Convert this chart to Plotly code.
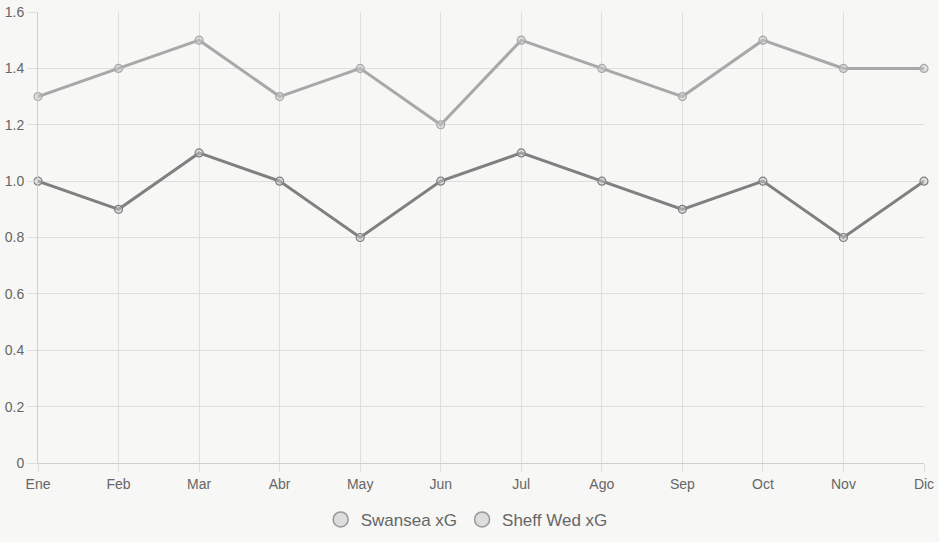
import plotly.graph_objects as go

months = ["Ene", "Feb", "Mar", "Abr", "May", "Jun", "Jul", "Ago", "Sep", "Oct", "Nov", "Dic"]
swansea_xg = [1.3, 1.4, 1.5, 1.3, 1.4, 1.2, 1.5, 1.4, 1.3, 1.5, 1.4, 1.4]
sheff_wed_xg = [1.0, 0.9, 1.1, 1.0, 0.8, 1.0, 1.1, 1.0, 0.9, 1.0, 0.8, 1.0]
y_ticks = [0, 0.2, 0.4, 0.6, 0.8, 1.0, 1.2, 1.4, 1.6]
y_labels = ["0", "0.2", "0.4", "0.6", "0.8", "1.0", "1.2", "1.4", "1.6"]

xs = list(range(len(months)))
fig = go.Figure()

series = [
    ("Swansea xG", swansea_xg, "#a8a8a8"),
    ("Sheff Wed xG", sheff_wed_xg, "#808080"),
]
for name, vals, col in series:
    fig.add_trace(go.Scatter(
        x=xs, y=vals, mode="lines+markers", name=name, showlegend=False,
        line=dict(color=col, width=3),
        marker=dict(size=8, color="rgba(200,200,200,0.5)", line=dict(color=col, width=1.2)),
        hoverinfo="y", cliponaxis=False,
    ))
for name, vals, col in series:
    fig.add_trace(go.Scatter(
        x=[None], y=[None], mode="markers", name=name,
        marker=dict(size=15, color="#dddddd", line=dict(color="#999999", width=1.5)),
    ))

grid = "#dedede"
fig.update_layout(
    width=939, height=542,
    paper_bgcolor="#f7f7f5", plot_bgcolor="#f7f7f5",
    margin=dict(l=38, r=15, t=12, b=79, autoexpand=False),
    font=dict(family="Liberation Sans, Arial, sans-serif", color="#666666", size=14),
    legend=dict(orientation="h", xref="container", x=0.497, xanchor="center",
                yref="container", y=0.074, yanchor="top",
                font=dict(size=17, color="#666666"), itemwidth=30, tracegroupgap=0,
                bgcolor="rgba(0,0,0,0)"),
)
fig.update_xaxes(
    range=[0, 11], tickvals=xs, ticktext=months, automargin=False,
    showgrid=True, gridcolor=grid, gridwidth=1,
    ticks="outside", ticklen=8, tickcolor=grid,
    showline=True, linecolor="#d0d0d0", linewidth=1,
    zeroline=False, tickfont=dict(size=14, color="#666666"),
)
fig.update_yaxes(
    range=[0, 1.6], tickvals=y_ticks, ticktext=y_labels, automargin=False,
    showgrid=True, gridcolor=grid, gridwidth=1,
    ticks="outside", ticklen=10, tickcolor=grid,
    showline=True, linecolor="#d0d0d0", linewidth=1,
    zeroline=False, tickfont=dict(size=14, color="#666666"),
)

fig.write_html("out.html")
